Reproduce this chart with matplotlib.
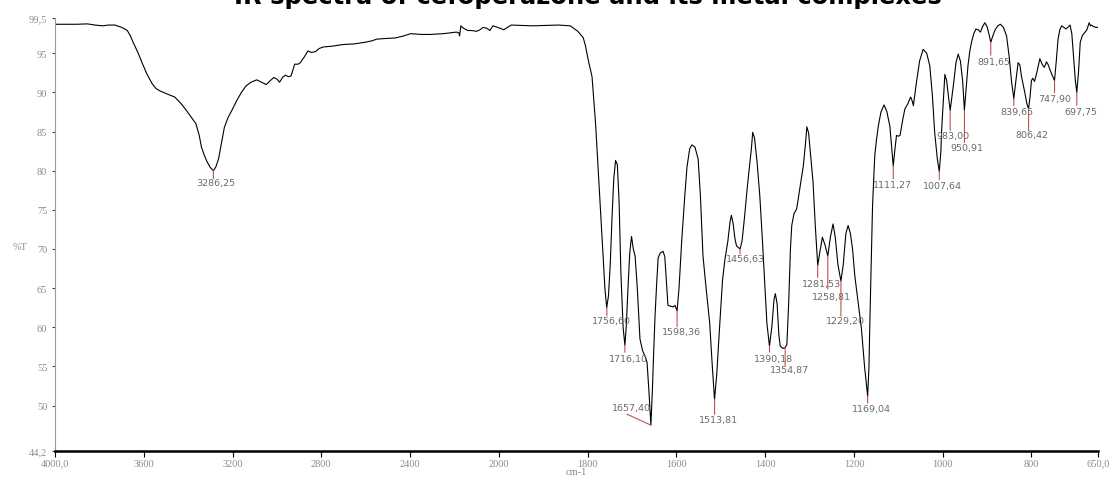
import numpy as np
import matplotlib
matplotlib.use("Agg")
import matplotlib.pyplot as plt

# ---------------- data ----------------
title = "IR spectra of cefoperazone and its metal complexes"

wavenumber = [
    4000, 3950, 3900, 3854, 3820, 3785, 3760, 3730, 3699, 3674, 3660, 3648, 3625, 3605, 3585,
    3562, 3545, 3528, 3495, 3460, 3430, 3408, 3385, 3365, 3350, 3340, 3325, 3314, 3300, 3286,
    3275, 3263, 3250, 3237, 3220, 3203, 3180, 3160, 3140, 3117, 3091, 3070, 3048, 3030, 3014,
    3000, 2988, 2975, 2962, 2948, 2936, 2920, 2905, 2894, 2875, 2860, 2845, 2826, 2810, 2791,
    2750, 2706, 2650, 2603, 2570, 2551, 2500, 2466, 2430, 2397, 2350, 2311, 2250, 2191, 2180,
    2177, 2171, 2160, 2140, 2123, 2100, 2085, 2071, 2055, 2040, 2027, 2005, 1989, 1972, 1925,
    1865, 1839, 1822, 1810, 1805, 1798, 1790, 1782, 1774, 1766, 1761, 1757, 1753, 1749, 1745,
    1741, 1737, 1733, 1729, 1725, 1720, 1716, 1713, 1709, 1705, 1701, 1697, 1693, 1688, 1682,
    1676, 1670, 1666, 1662, 1657.4, 1654, 1651, 1648, 1644, 1641, 1636, 1630, 1626, 1622, 1619,
    1613, 1607, 1603, 1598.4, 1594, 1588, 1581, 1576, 1570, 1565, 1558, 1551, 1546, 1540, 1533,
    1525, 1519, 1514, 1509, 1502, 1496, 1491, 1484, 1479, 1476, 1472, 1468, 1464.5, 1456.6, 1452,
    1446, 1440, 1431, 1428, 1424, 1418, 1412, 1406, 1401, 1396, 1390.2, 1385, 1380, 1377, 1373,
    1369, 1366, 1360, 1355, 1351, 1347, 1343, 1340, 1335, 1329, 1321, 1314, 1309, 1306, 1302,
    1296, 1292, 1287, 1281.5, 1277, 1271, 1265, 1258.8, 1253, 1247, 1242, 1236, 1229.2, 1224, 1218,
    1213, 1208, 1203, 1198, 1190, 1183, 1176, 1169, 1166, 1164, 1161, 1158, 1153, 1149, 1145,
    1139, 1132, 1126, 1119, 1115, 1111.3, 1108, 1104, 1100, 1096, 1090, 1085, 1078, 1074, 1072,
    1068, 1066, 1062, 1059, 1052, 1044, 1036, 1029, 1023, 1018, 1012, 1007.6, 1004, 1002.6, 998,
    995, 991, 987, 983, 979, 975, 970, 965, 960, 955, 951, 947, 943, 939, 935,
    930, 925, 920, 915, 910, 905, 900, 895, 891.7, 887, 882.5, 876, 870, 863, 856,
    850, 845, 839.7, 835, 830, 826, 822.6, 815, 810, 806.4, 803, 800, 797, 793, 788,
    781, 776, 771, 766, 762, 759, 754, 748, 744, 740, 736, 732, 727, 722, 718,
    713, 709, 705, 701, 697.8, 694, 690, 685, 679, 675, 670, 667, 665, 660, 654,
    650,
]
transmittance = [
    98.7, 98.7, 98.7, 98.75, 98.6, 98.5, 98.6, 98.6, 98.3, 97.9, 97.2, 96.4, 95.0, 93.6, 92.3,
    91.1, 90.5, 90.2, 89.8, 89.4, 88.5, 87.7, 86.8, 86.0, 84.5, 83.0, 81.8, 81.1, 80.4, 80.0,
    80.5, 81.5, 83.5, 85.5, 86.8, 87.7, 89.0, 90.0, 90.8, 91.3, 91.6, 91.3, 91.0, 91.5, 91.9,
    91.7, 91.3, 91.9, 92.2, 92.0, 92.1, 93.6, 93.6, 93.8, 94.6, 95.3, 95.1, 95.2, 95.6, 95.8,
    95.9, 96.1, 96.2, 96.4, 96.6, 96.8, 96.9, 96.95, 97.2, 97.5, 97.4, 97.4, 97.5, 97.7, 97.6,
    97.2, 98.5, 98.2, 97.9, 97.9, 97.8, 98.0, 98.3, 98.2, 97.9, 98.5, 98.3, 98.0, 98.6, 98.5,
    98.6, 98.5, 97.8, 97.0, 96.0, 94.0, 92.0, 86.0, 78.0, 70.0, 65.0, 62.5, 64.0, 68.0, 74.0,
    79.0, 81.3, 80.8, 76.0, 67.0, 60.0, 57.7, 60.0, 65.0, 69.5, 71.6, 70.0, 69.1, 65.0, 58.5,
    57.0, 56.2, 55.5, 52.0, 47.5, 52.0, 57.0, 61.5, 66.0, 68.9, 69.5, 69.7, 69.0, 65.5, 62.8,
    62.7, 62.6, 62.8, 62.1, 65.0, 71.0, 76.8, 80.5, 82.8, 83.3, 83.0, 81.5, 77.0, 69.1, 65.0,
    60.6, 55.0, 50.8, 54.0, 60.6, 66.0, 68.5, 71.0, 73.5, 74.3, 73.2, 71.3, 70.4, 70.0, 71.0,
    74.3, 78.0, 82.8, 84.9, 84.2, 81.0, 76.8, 71.0, 65.7, 60.5, 57.6, 60.0, 63.5, 64.3, 63.0,
    59.0, 57.6, 57.3, 57.4, 57.8, 63.0, 70.0, 73.0, 74.5, 75.1, 78.0, 80.6, 83.5, 85.6, 84.8,
    81.0, 78.5, 73.0, 67.9, 69.5, 71.5, 70.5, 69.1, 71.5, 73.2, 71.5, 68.0, 65.9, 68.0, 72.0,
    73.0, 72.0, 70.0, 66.6, 63.0, 59.8, 55.0, 51.2, 55.0, 60.7, 68.0, 75.5, 81.9, 84.0, 85.7,
    87.5, 88.4, 87.6, 85.7, 83.0, 80.6, 82.5, 84.5, 84.4, 84.5, 86.5, 87.9, 88.6, 89.2, 89.4,
    88.8, 88.3, 90.0, 91.3, 94.0, 95.5, 95.0, 93.4, 89.5, 84.9, 81.5, 79.9, 82.5, 84.9, 89.5,
    92.3, 91.5, 89.5, 87.7, 89.5, 91.3, 93.8, 94.9, 94.0, 91.5, 87.7, 90.5, 93.4, 95.2, 96.4,
    97.5, 98.1, 98.0, 97.7, 98.4, 98.9, 98.4, 97.3, 96.4, 97.2, 97.9, 98.5, 98.7, 98.3, 97.2,
    94.5, 91.5, 89.2, 91.5, 93.8, 93.5, 92.1, 90.0, 88.5, 87.9, 89.5, 91.5, 91.8, 91.4, 92.5,
    94.3, 93.6, 93.2, 93.9, 93.5, 93.0, 92.3, 91.5, 94.0, 96.8, 98.0, 98.5, 98.3, 98.1, 98.3,
    98.6, 97.5, 94.5, 91.5, 90.0, 92.5, 96.4, 97.3, 97.7, 98.0, 98.9, 98.5, 98.6, 98.4, 98.3,
    98.3,
]

peak_wn = [3286.25, 1756.60, 1716.10, 1657.40, 1598.36, 1513.81, 1456.63, 1390.18, 1354.87,
           1281.53, 1258.81, 1229.20, 1169.04, 1111.27, 1007.64, 983.00, 950.91, 891.65,
           839.65, 806.42, 747.90, 697.75]
peak_T = [80.0, 62.5, 57.7, 47.5, 62.1, 50.8, 70.0, 57.6, 57.4,
          67.9, 69.1, 65.9, 51.2, 80.6, 79.9, 87.7, 87.7, 96.4,
          89.2, 87.9, 91.5, 90.0]

x_ticks = [4000, 3600, 3200, 2800, 2400, 2000, 1800, 1600, 1400, 1200, 1000, 800, 650]
x_ticklabels = ["4000,0", "3600", "3200", "2800", "2400", "2000", "1800", "1600",
                "1400", "1200", "1000", "800", "650,0"]
y_ticks = [44.2, 50, 55, 60, 65, 70, 75, 80, 85, 90, 95, 99.5]
y_ticklabels = ["44,2", "50", "55", "60", "65", "70", "75", "80", "85", "90", "95", "99,5"]

# ---------------- layout of peak labels (pixels) ----------------
# (line end dx, line end dy, text dx, text dy)  relative to the peak minimum
label_layout = [
    (0, -8, 2, -12), (0, -8, 5, -13), (0, -7, 4, -13), (-24, 11, -19, 18),
    (0, -16, 4, -21), (0, -15, 4, -20), (0, -5, 5, -10), (0, -6, 4, -12),
    (0, -18, 4, -22), (0, -12, 4, -18), (0, -33, 4, -40), (0, -35, 4, -39),
    (0, -7, 4, -12), (0, -13, -1, -19), (0, -8, 3, -14), (0, -20, 3, -25),
    (0, -32, 2, -37), (0, -13, 3, -19), (0, -7, 3, -13), (0, -22, 3, -26),
    (0, -12, 0, -18), (0, -13, 4, -19),
]

W, H = 1112, 481
fig = plt.figure(figsize=(W / 100, H / 100), dpi=100)
ax = fig.add_axes([55 / W, (H - 452) / H, (1098 - 55) / W, (452 - 19) / H])


def fwd(x):
    x = np.asarray(x, dtype=float)
    return np.where(x > 2000, 2000 + (x - 2000) / 2.0, x)


def inv(u):
    u = np.asarray(u, dtype=float)
    return np.where(u > 2000, 2000 + (u - 2000) * 2.0, u)


ax.set_xscale('function', functions=(fwd, inv))
ax.plot(wavenumber, transmittance, color='black', lw=0.8, solid_joinstyle='round')
ax.set_xlim(4000, 650)
ax.set_ylim(44.2, 99.5)

ax.set_xticks(x_ticks)
ax.set_xticklabels(x_ticklabels)
ax.set_yticks(y_ticks)
ax.set_yticklabels(y_ticklabels)
ax.minorticks_off()

tick_family = ['Liberation Serif', 'DejaVu Serif']
for lab in ax.get_xticklabels() + ax.get_yticklabels():
    lab.set_fontfamily(tick_family)
    lab.set_fontsize(7.5)
    lab.set_color('#8c8c8c')

ax.tick_params(axis='x', direction='out', length=4, width=0.8, color='black', pad=1.5)
ax.tick_params(axis='y', direction='out', length=2.5, width=0.8, color='#444444', pad=3)

for s in ['top', 'right']:
    ax.spines[s].set_visible(False)
ax.spines['left'].set_color('#9a9a9a')
ax.spines['left'].set_linewidth(0.8)
ax.spines['bottom'].set_color('black')
ax.spines['bottom'].set_linewidth(1.8)

red = '#c0504d'
for (w, t), (lx, ly, tx, ty) in zip(zip(peak_wn, peak_T), label_layout):
    ax.annotate('', xy=(w, t), xytext=(lx, ly), textcoords='offset pixels',
                arrowprops=dict(arrowstyle='-', color=red, lw=0.8, shrinkA=0, shrinkB=0))
    ax.annotate(f"{w:.2f}".replace('.', ','), xy=(w, t), xytext=(tx, ty),
                textcoords='offset pixels', ha='center', va='center',
                fontsize=6.8, color='#6a6a6a', family='DejaVu Sans')

fig.text(20 / W, 1 - 248 / H, '%T', ha='center', va='center', fontsize=7.5,
         color='#8c8c8c', family=tick_family)
fig.text(576 / W, 1 - 473 / H, 'cm-1', ha='center', va='center', fontsize=7.5,
         color='#8c8c8c', family=tick_family)

tt = fig.text(588 / W, 1 - 4 / H, title, ha='center', va='baseline',
              fontweight='bold', fontsize=16, color='black', family='DejaVu Sans')
fig.canvas.draw()
wpx = tt.get_window_extent().width
tt.set_fontsize(16 * 712 / wpx)

fig.savefig('out.png', dpi=100)
